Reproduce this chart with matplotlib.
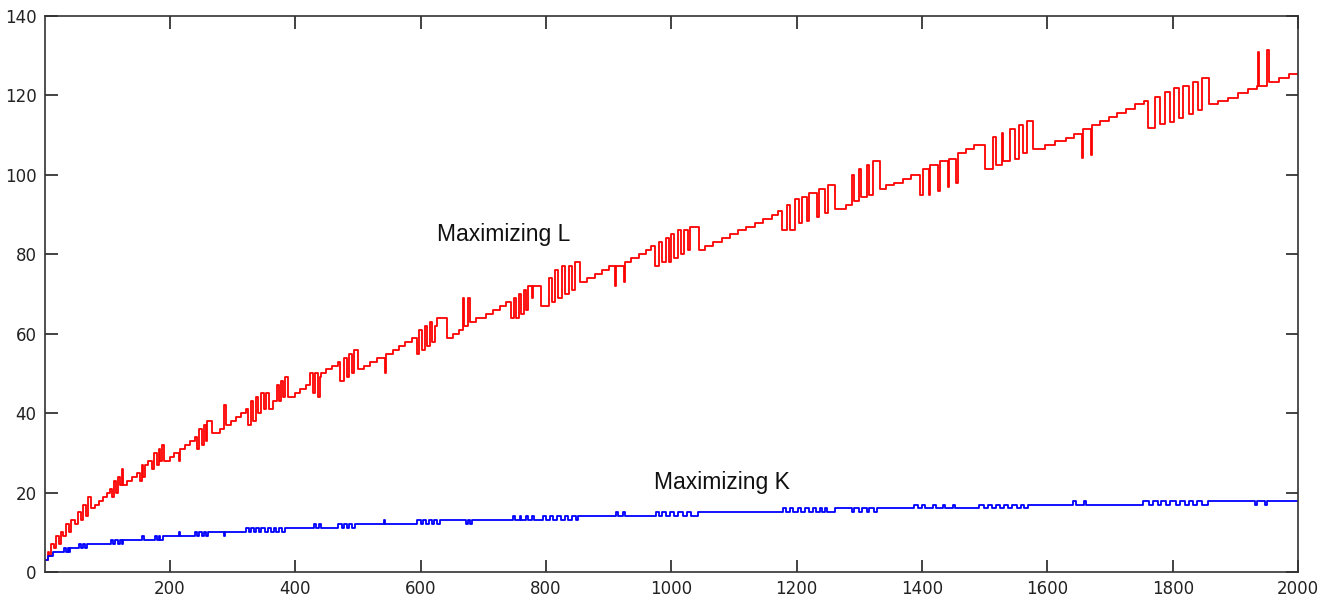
import matplotlib
matplotlib.use("Agg")
import matplotlib.pyplot as plt

# step points: level starts at x and holds until the next x
red_x = [1, 5, 8, 11, 15, 19, 23, 26, 30, 34, 39, 43, 48, 53, 58, 62, 66, 70, 74, 80,
         87, 94, 100, 104, 108, 111, 114, 117, 121, 124, 126, 132, 140, 148, 152, 155, 158, 161, 165, 172,
         175, 179, 182, 185, 188, 191, 200, 207, 215, 217, 225, 232, 240, 243, 247, 251, 254, 257, 260, 267,
         280, 287, 289, 297, 305, 314, 322, 325, 329, 333, 337, 341, 345, 350, 354, 358, 364, 371, 374, 377,
         380, 384, 388, 399, 407, 418, 423, 428, 431, 437, 439, 442, 450, 458, 468, 472, 478, 482, 486, 490,
         494, 500, 510, 520, 531, 543, 545, 556, 565, 576, 587, 594, 598, 603, 607, 611, 615, 619, 623, 626,
         642, 652, 662, 668, 670, 676, 679, 688, 694, 705, 716, 727, 737, 745, 749, 753, 757, 761, 765, 769,
         772, 778, 780, 793, 805, 810, 815, 820, 826, 831, 837, 842, 847, 855, 866, 878, 890, 900, 910, 912,
         924, 926, 936, 948, 960, 968, 974, 980, 985, 991, 996, 1000, 1005, 1010, 1016, 1020, 1026, 1030, 1044, 1054,
         1067, 1081, 1094, 1107, 1120, 1133, 1147, 1160, 1170, 1176, 1184, 1189, 1197, 1204, 1208, 1217, 1220, 1232, 1236, 1246,
         1250, 1261, 1278, 1288, 1289, 1291, 1300, 1302, 1313, 1315, 1322, 1333, 1343, 1356, 1369, 1383, 1397, 1402, 1411, 1413,
         1426, 1428, 1441, 1443, 1455, 1457, 1470, 1483, 1500, 1514, 1518, 1527, 1530, 1541, 1548, 1555, 1561, 1567, 1577, 1597,
         1613, 1629, 1643, 1655, 1657, 1670, 1672, 1684, 1698, 1711, 1725, 1740, 1754, 1761, 1772, 1779, 1788, 1795, 1802, 1810,
         1817, 1826, 1832, 1841, 1847, 1858, 1873, 1888, 1904, 1920, 1934, 1936, 1938, 1951, 1953, 1969, 1985, 2000]
red_y = [3, 5, 4, 7, 6, 9, 7, 10, 9, 12, 10, 13, 12, 15, 13, 17, 14, 19, 16, 17,
         18, 19, 20, 21, 19, 23, 20, 24, 22, 26, 22, 23, 24, 25, 23, 27, 24, 27, 28, 26,
         30, 27, 31, 28, 32, 28, 29, 30, 28, 31, 32, 33, 34, 31, 36, 32, 37, 33, 38, 35,
         36, 42, 37, 38, 39, 40, 41, 37, 43, 38, 44, 40, 45, 41, 45, 41, 43, 47, 43, 48,
         44, 49, 44, 45, 46, 47, 50, 45, 50, 44, 49, 50, 51, 52, 53, 48, 54, 49, 55, 50,
         56, 51, 52, 53, 54, 50, 55, 56, 57, 58, 59, 55, 61, 56, 62, 57, 63, 58, 62, 64,
         59, 60, 61, 69, 62, 69, 63, 64, 64, 65, 66, 67, 68, 64, 69, 64, 70, 65, 71, 66,
         72, 69, 72, 67, 74, 68, 76, 69, 77, 70, 77, 71, 78, 73, 74, 75, 76, 77, 72, 77,
         73, 78, 79, 80, 81, 82, 77, 83, 78, 84, 78, 85, 79, 86, 80, 86, 81, 87, 81, 82,
         83, 84, 85, 86, 87, 88, 89, 90, 91, 86, 92.5, 86, 94, 88, 94.5, 88.5, 95.5, 89.5, 96.5, 90.5,
         97.5, 91.3, 92.5, 93.5, 100, 93.5, 101.5, 94.5, 102.5, 95, 103.5, 96.5, 97.5, 98, 99, 100, 95, 101.5, 95, 102.5,
         96, 103.5, 97, 104, 98, 105.5, 106.4, 107.6, 101.5, 109.5, 102.5, 110.5, 103.5, 111.5, 104, 112.5, 105.5, 113.5, 106.5, 107.5,
         108.5, 109.3, 110.3, 104.2, 111.5, 105, 112.5, 113.5, 114.5, 115.5, 116.7, 117.8, 118.5, 111.7, 119.6, 112.7, 120.8, 113.3, 121.8, 114.4,
         122.4, 115.4, 123.4, 116.4, 124.5, 117.8, 118.5, 119.4, 120.6, 121.6, 122.3, 131, 122.3, 131.5, 123.4, 124.5, 125.5, 125.5]

blue_x = [1, 5, 14, 32, 34, 37, 39, 41, 55, 58, 62, 65, 68, 107, 110, 113, 118, 121, 124, 126,
          155, 159, 176, 179, 182, 185, 189, 215, 217, 240, 243, 247, 251, 255, 258, 261, 286, 288, 322, 326,
          330, 334, 338, 342, 346, 352, 356, 362, 366, 370, 375, 379, 383, 430, 433, 438, 441, 468, 474, 478,
          482, 486, 490, 495, 541, 543, 595, 600, 604, 609, 613, 618, 622, 627, 631, 672, 675, 679, 682, 748,
          751, 758, 761, 768, 771, 778, 781, 795, 800, 806, 812, 818, 824, 830, 836, 842, 848, 852, 912, 915,
          923, 926, 975, 980, 985, 992, 998, 1005, 1011, 1018, 1025, 1032, 1043, 1178, 1183, 1190, 1195, 1202, 1207, 1214,
          1219, 1226, 1231, 1238, 1240, 1246, 1249, 1262, 1288, 1292, 1300, 1304, 1312, 1316, 1324, 1328, 1387, 1393, 1400, 1405,
          1418, 1423, 1433, 1436, 1449, 1452, 1491, 1499, 1505, 1512, 1518, 1525, 1531, 1538, 1544, 1551, 1558, 1563, 1569, 1641,
          1645, 1658, 1661, 1753, 1762, 1768, 1776, 1782, 1790, 1796, 1805, 1811, 1820, 1826, 1833, 1838, 1846, 1856, 1932, 1935,
          1948, 1951, 2000]
blue_y = [3, 4, 5, 6, 5, 6, 5, 6, 7, 6, 7, 6, 7, 8, 7, 8, 7, 8, 7, 8,
          9, 8, 9, 8, 9, 8, 9, 10, 9, 10, 9, 10, 9, 10, 9, 10, 9, 10, 11, 10,
          11, 10, 11, 10, 11, 10, 11, 10, 11, 10, 11, 10, 11, 12, 11, 12, 11, 12, 11, 12,
          11, 12, 11, 12, 13, 12, 13, 12, 13, 12, 13, 12, 13, 12, 13, 12, 13, 12, 13, 14,
          13, 14, 13, 14, 13, 14, 13, 14, 13, 14, 13, 14, 13, 14, 13, 14, 13, 14, 15, 14,
          15, 14, 15, 14, 15, 14, 15, 14, 15, 14, 15, 14, 15, 16, 15, 16, 15, 16, 15, 16,
          15, 16, 15, 16, 15, 16, 15, 16, 15, 16, 15, 16, 15, 16, 15, 16, 17, 16, 17, 16,
          17, 16, 17, 16, 17, 16, 17, 16, 17, 16, 17, 16, 17, 16, 17, 16, 17, 16, 17, 18,
          17, 18, 17, 18, 17, 18, 17, 18, 17, 18, 17, 18, 17, 18, 17, 18, 17, 18, 17, 18,
          17, 18, 18]

x_ticks = [200, 400, 600, 800, 1000, 1200, 1400, 1600, 1800, 2000]
y_ticks = [0, 20, 40, 60, 80, 100, 120, 140]

fig = plt.figure(figsize=(13.33, 6.02), dpi=100)
ax = fig.add_axes([0.0338, 0.0498, 0.9400, 0.9236])

ax.step(red_x, red_y, where="post", color="#ff0000", lw=1.3)
ax.step(blue_x, blue_y, where="post", color="#0000ff", lw=1.3)

ax.text(627, 85, "Maximizing L", fontsize=16.5, family="Liberation Sans",
        va="center", color="#111111")
ax.text(972, 22.5, "Maximizing K", fontsize=16.5, family="Liberation Sans",
        va="center", color="#111111")

ax.set_xlim(1, 2000)
ax.set_ylim(0, 140)
ax.set_xticks(x_ticks)
ax.set_yticks(y_ticks)
ax.tick_params(direction="in", length=9, width=1.2, top=True, right=True,
               labelsize=12, colors="#222222", pad=6)
for s in ax.spines.values():
    s.set_linewidth(1.2)
    s.set_color("#333333")

fig.savefig("out.png", dpi=100)
